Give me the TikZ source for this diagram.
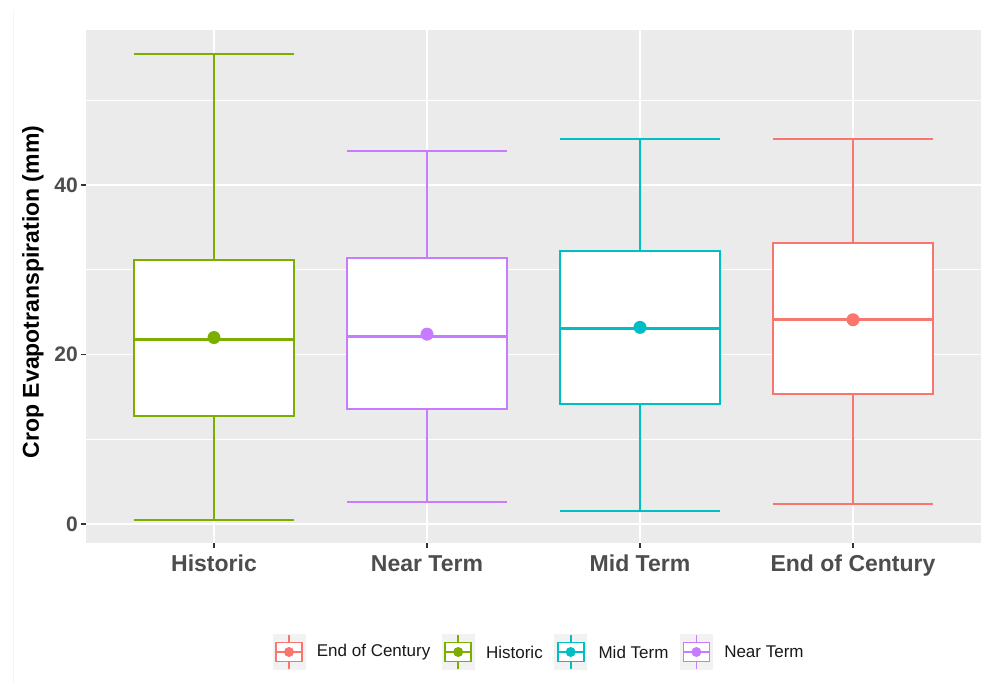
\documentclass[tikz,border=0pt]{standalone}
\usepackage{fontspec}
\setmainfont{Liberation Sans}
\usetikzlibrary{positioning}

\definecolor{eoc}{HTML}{F8766D}
\definecolor{hist}{HTML}{7CAE00}
\definecolor{mid}{HTML}{00BFC4}
\definecolor{near}{HTML}{C77CFF}
\definecolor{panelgray}{HTML}{EBEBEB}
\definecolor{ticktext}{HTML}{4D4D4D}
\definecolor{tickline}{HTML}{333333}
\definecolor{keygray}{HTML}{F2F2F2}

\tikzset{
    ticklabel/.style={font=\bfseries\fontsize{21}{25}\selectfont, text=ticktext, inner sep=0pt},
    catlabel/.style={font=\bfseries\fontsize{23}{27}\selectfont, text=ticktext, inner sep=0pt, anchor=base},
    legtext/.style={font=\fontsize{17}{20}\selectfont, text=black!90, inner sep=0pt},
    keybox/.style={fill=keygray, minimum width=33pt, minimum height=36pt, inner sep=0pt},
    gridmajor/.style={white, line width=1.4pt},
    gridminor/.style={white, line width=0.7pt},
    boxline/.style={line width=1.9pt}
}

% small boxplot glyph inside a legend key
\newcommand{\legglyph}[2]{
    \draw[#2, line width=1.7pt] ([yshift=-17pt]#1.center) -- ([yshift=17pt]#1.center);
    \draw[#2, line width=1.7pt, fill=white] ([xshift=-13pt, yshift=-9.5pt]#1.center) rectangle ([xshift=13pt, yshift=9.5pt]#1.center);
    \draw[#2, line width=1.7pt] ([xshift=-13pt]#1.center) -- ([xshift=13pt]#1.center);
    \fill[#2] (#1.center) circle (5pt);
}

\begin{document}
\begin{tikzpicture}[x=1pt, y=1pt]
    \useasboundingbox (0,0) rectangle (981,683);
    \fill[white] (0,0) rectangle (981,683);
    \draw[black!4, line width=1pt] (13,0) -- (13,673);

    % panel
    \fill[panelgray] (86,140) rectangle (981,653);

    \begin{scope}[yshift=159pt, y=8.475pt]
        \foreach \v in {10,30,50} \draw[gridminor] (86,\v) -- (981,\v);
        \foreach \v in {0,20,40} {
            \draw[gridmajor] (86,\v) -- (981,\v);
            \draw[tickline, line width=1.4pt] (81,\v) -- (86,\v);
            \node[ticklabel, anchor=east] (ytick\v) at (78,\v) {\v};
        }
        \foreach \cx in {214,427,640,853} \draw[gridmajor] (\cx,-2.2) -- (\cx,58.3);

        % boxes: centre / low / Q1 / median / Q3 / high / mean / colour
        \foreach \cx/\lo/\qa/\med/\qb/\hi/\mean/\col in {
            214/0.5/12.7/21.8/31.15/55.5/22.0/hist,
            427/2.6/13.6/22.1/31.4/44.0/22.4/near,
            640/1.5/14.2/23.1/32.2/45.4/23.2/mid,
            853/2.4/15.3/24.1/33.2/45.4/24.1/eoc} {
            \draw[\col, boxline] (\cx,\lo) -- (\cx,\qa) (\cx,\qb) -- (\cx,\hi);
            \draw[\col, boxline] (\cx-80,\lo) -- (\cx+80,\lo) (\cx-80,\hi) -- (\cx+80,\hi);
            \draw[\col, boxline, fill=white] (\cx-80,\qa) rectangle (\cx+80,\qb);
            \draw[\col, line width=3.4pt] (\cx-80,\med) -- (\cx+80,\med);
            \fill[\col] (\cx,\mean) circle (6.5pt);
        }
    \end{scope}

    % category axis
    \foreach \cx/\name/\txt in {214/hist/Historic, 427/near/Near Term, 640/mid/Mid Term, 853/eoc/End of Century} {
        \draw[tickline, line width=1.4pt] (\cx,140) -- (\cx,135);
        \node[catlabel] (lab\name) at (\cx,112) {\txt};
    }

    \node[rotate=90, font=\bfseries\fontsize{23}{27}\selectfont, inner sep=0pt] (ytitle) at (33,391) {Crop Evapotranspiration (mm)};

    % legend
    \node[keybox] (keyeoc) at (289,31) {};
    \node[legtext, right=11pt of keyeoc] (txteoc) {End of Century};
    \node[keybox, right=11pt of txteoc] (keyhist) {};
    \node[legtext, right=11pt of keyhist] (txthist) {Historic};
    \node[keybox, right=11pt of txthist] (keymid) {};
    \node[legtext, right=11pt of keymid] (txtmid) {Mid Term};
    \node[keybox, right=11pt of txtmid] (keynear) {};
    \node[legtext, right=11pt of keynear] (txtnear) {Near Term};

    \legglyph{keyeoc}{eoc}
    \legglyph{keyhist}{hist}
    \legglyph{keymid}{mid}
    \legglyph{keynear}{near}
\end{tikzpicture}
\end{document}
